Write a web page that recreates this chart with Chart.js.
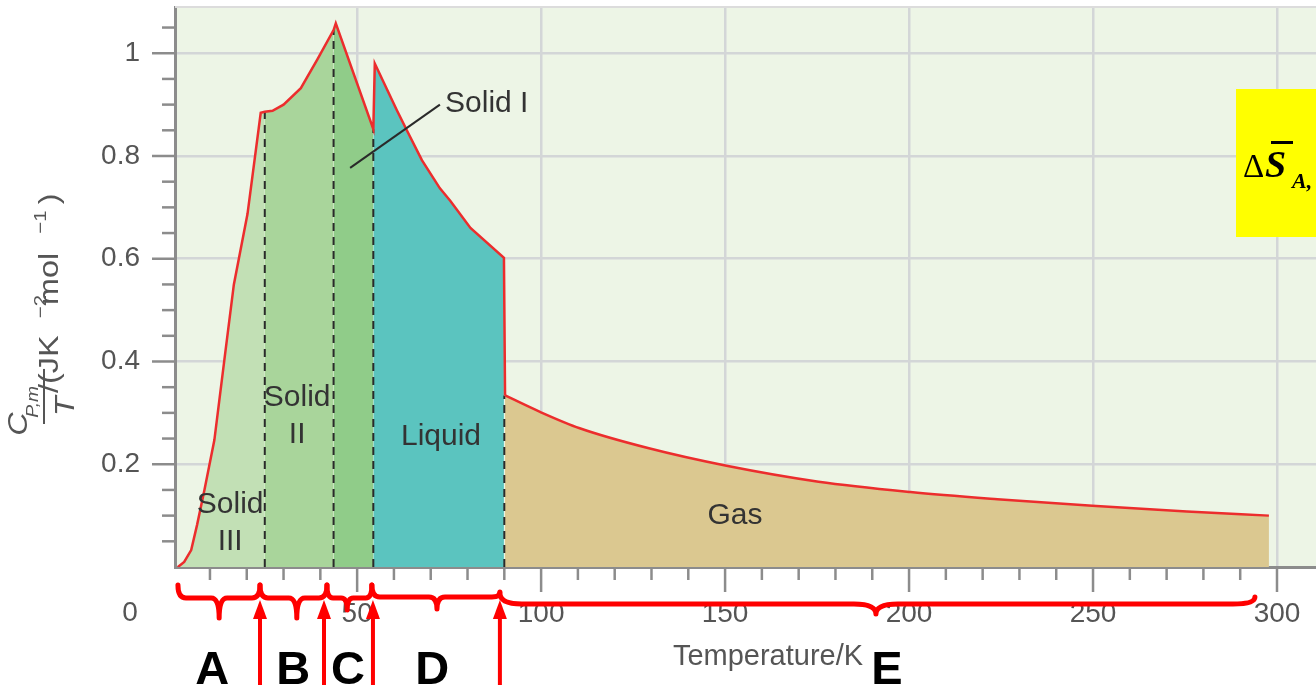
<!DOCTYPE html>
<html>
<head>
<meta charset="utf-8">
<script src="https://cdn.jsdelivr.net/npm/chart.js@4.4.1/dist/chart.umd.min.js"></script>
<style>
  html, body { margin: 0; padding: 0; background: #fff; }
</style>
</head>
<body>
<canvas id="c" width="1316" height="685"></canvas>
<script>
// Cp,m/T against temperature
const tempK = [1.3, 3, 4.9, 6.5, 8.5, 11.2, 13.9, 16.5, 20.2, 23.8, 24.9, 27, 30, 34.7, 39.2, 43.6, 44.2,
  54.4, 54.8, 60.8, 63.5, 67.6, 72.5, 75.3, 80.8, 89.9,
  90.2, 99.7, 110.5, 129.3, 150.4, 175.4, 200.4, 224, 249.8, 275.5, 297.8];
const cpOverT = [0, 0.01, 0.033, 0.082, 0.15, 0.247, 0.402, 0.55, 0.687, 0.884, 0.886, 0.888, 0.9, 0.932, 0.988, 1.045, 1.058,
  0.852, 0.98, 0.889, 0.85, 0.792, 0.737, 0.713, 0.66, 0.602,
  0.334, 0.302, 0.270, 0.231, 0.197, 0.166, 0.146, 0.132, 0.119, 0.108, 0.100];

// phases (filled areas under the curve)
const phaseName = ['Solid III', 'Solid II', 'Solid I', 'Liquid', 'Gas'];
const phaseFrom = [1.3, 24.9, 43.6, 54.4, 90.2];
const phaseTo = [24.9, 43.6, 54.4, 89.9, 297.8];
const phaseColor = ['#c2e0b5', '#a9d59b', '#90cc89', '#5bc4bf', '#dbc890'];

// transitions (dashed lines)
const transitionK = [24.9, 43.6, 54.4, 90.0];
const transitionTop = [0.886, 1.045, 0.852, 0.334];

const xTickLabels = [50, 100, 150, 200, 250, 300];
const yTickLabels = [0.2, 0.4, 0.6, 0.8, 1];

// red annotations under the axis
const rangeLetter = ['A', 'B', 'C', 'D', 'E'];
const rangeFrom = [1.3, 23.6, 41.8, 54.0, 88.8];
const rangeTo = [23.6, 41.8, 54.0, 88.8, 294];
const rangeTip = [12.5, 33.6, 47.3, 71.7, 191];
const letterAt = [10.6, 32.6, 47.5, 70.4, 194];
const arrowAt = [23.6, 41.0, 54.3, 88.8];

const FONT = '"Liberation Sans", Arial, Helvetica, sans-serif';
const SERIF = '"Liberation Serif", "Times New Roman", serif';
Chart.defaults.font.family = FONT;

const GAS_FROM = phaseFrom[4];
function pts(xs, ys) { return xs.map((x, i) => ({ x: x, y: ys[i] })); }
const all = pts(tempK, cpOverT);

const datasets = [];
// red curve: condensed phases straight, gas part smooth
datasets.push({
  label: 'Cp/T', data: all.filter(p => p.x <= GAS_FROM), borderColor: '#ec2d2d', borderWidth: 2.5,
  fill: false, pointRadius: 0, order: 0
});
datasets.push({
  label: 'Cp/T gas', data: all.filter(p => p.x >= GAS_FROM), borderColor: '#ec2d2d', borderWidth: 2.5,
  fill: false, pointRadius: 0, order: 0, cubicInterpolationMode: 'monotone'
});
transitionK.forEach((k, i) => {
  datasets.push({
    label: 'tr' + i, data: [{ x: k, y: 0 }, { x: k, y: transitionTop[i] }],
    borderColor: '#2a2a2a', borderWidth: 2, borderDash: [8, 6], pointRadius: 0, fill: false, order: 1
  });
});
phaseName.forEach((name, i) => {
  const d = all.filter(p => p.x >= phaseFrom[i] && p.x <= phaseTo[i]);
  datasets.push({
    label: name, data: d, borderWidth: 0, borderColor: 'rgba(0,0,0,0)',
    backgroundColor: phaseColor[i], fill: 'origin', pointRadius: 0, order: 2,
    cubicInterpolationMode: name === 'Gas' ? 'monotone' : 'default'
  });
});

function brace(ctx, x1, x2, xm, yEnd1, yEnd2, yLine, yTip, r) {
  ctx.beginPath();
  ctx.moveTo(x1, yEnd1);
  ctx.quadraticCurveTo(x1, yLine, x1 + r, yLine);
  ctx.lineTo(xm - r, yLine);
  ctx.quadraticCurveTo(xm, yLine, xm, yTip);
  ctx.quadraticCurveTo(xm, yLine, xm + r, yLine);
  ctx.lineTo(x2 - r, yLine);
  ctx.quadraticCurveTo(x2, yLine, x2, yEnd2);
  ctx.stroke();
}

function drawYTitle(ctx) {
  const main = '27px ' + FONT, ital = 'italic 27px ' + FONT, sub = 'italic 16px ' + FONT, sup = '17px ' + FONT;
  ctx.save();
  ctx.translate(58, 424);
  ctx.rotate(-Math.PI / 2);
  ctx.scale(1.2, 1);
  ctx.fillStyle = '#555';
  ctx.textBaseline = 'alphabetic';
  let x = 0;
  // fraction
  ctx.font = ital; ctx.fillText('C', x, -31);
  const cw = ctx.measureText('C').width;
  ctx.font = sub; ctx.fillText('P,m', x + cw - 1, -20);
  const fw = cw + ctx.measureText('P,m').width;
  ctx.fillRect(x, -15, fw, 2);
  ctx.font = ital;
  const tw = ctx.measureText('T').width;
  ctx.fillText('T', x + (fw - tw) / 2, 16);
  x += fw + 4;
  ctx.font = main; ctx.fillText('/(JK', x, 0); x += ctx.measureText('/(JK').width;
  ctx.font = sup; ctx.fillText('\u22122', x, -12); x += ctx.measureText('\u22122').width;
  ctx.font = main; ctx.fillText(' mol', x, 0); x += ctx.measureText(' mol').width;
  ctx.font = sup; ctx.fillText('\u22121', x, -12); x += ctx.measureText('\u22121').width;
  ctx.font = main; ctx.fillText(')', x, 0);
  ctx.restore();
}

const decor = {
  id: 'decor',
  beforeDraw(chart) {
    const { ctx, chartArea: a } = chart;
    ctx.save();
    ctx.fillStyle = '#edf5e6';
    ctx.fillRect(a.left, a.top, a.right - a.left, a.bottom - a.top);
    ctx.restore();
  },
  afterDatasetsDraw(chart) {
    const { ctx } = chart;
    const xs = chart.scales.x, ys = chart.scales.y;
    ctx.save();
    ctx.fillStyle = '#333';
    ctx.textAlign = 'center';
    ctx.textBaseline = 'middle';
    ctx.font = '30px ' + FONT;
    const labelText = ['Solid', 'III', 'Solid', 'II', 'Liquid', 'Gas'];
    const labelK = [15.5, 15.5, 33.7, 33.7, 72.8, 152.7];
    const labelV = [0.121, 0.049, 0.329, 0.257, 0.253, 0.099];
    labelText.forEach((t, i) => ctx.fillText(t, xs.getPixelForValue(labelK[i]), ys.getPixelForValue(labelV[i])));
    // Solid I with leader line
    ctx.textAlign = 'left';
    ctx.fillText('Solid I', xs.getPixelForValue(73.9), ys.getPixelForValue(0.901));
    ctx.strokeStyle = '#2a2a2a';
    ctx.lineWidth = 2;
    ctx.beginPath();
    ctx.moveTo(xs.getPixelForValue(48.1), ys.getPixelForValue(0.777));
    ctx.lineTo(xs.getPixelForValue(72.5), ys.getPixelForValue(0.9));
    ctx.stroke();
    ctx.restore();
  },
  afterDraw(chart) {
    const { ctx, chartArea: a } = chart;
    const xs = chart.scales.x, ys = chart.scales.y;
    ctx.save();
    // top frame line
    ctx.strokeStyle = '#dcdcdc';
    ctx.lineWidth = 2;
    ctx.beginPath(); ctx.moveTo(a.left, a.top); ctx.lineTo(a.right, a.top); ctx.stroke();
    // tick marks
    ctx.strokeStyle = '#8c8c8c';
    ctx.lineWidth = 2.5;
    xs.ticks.forEach(t => {
      const p = xs.getPixelForValue(t.value);
      const len = t.value % 50 === 0 ? 25 : 13;
      ctx.beginPath(); ctx.moveTo(p, a.bottom); ctx.lineTo(p, a.bottom + len); ctx.stroke();
    });
    ys.ticks.forEach(t => {
      const r = Math.round(t.value * 100);
      if (r === 0) return;
      const p = ys.getPixelForValue(t.value);
      const len = r % 20 === 0 ? 23 : 13;
      ctx.beginPath(); ctx.moveTo(a.left - len, p); ctx.lineTo(a.left, p); ctx.stroke();
    });
    // x label "0" sits well left of the axis in the figure
    ctx.fillStyle = '#555';
    ctx.font = '28px ' + FONT;
    ctx.textAlign = 'center';
    ctx.textBaseline = 'middle';
    ctx.fillText('0', xs.getPixelForValue(0.5) - 45, 613);
    // axis titles
    ctx.font = '29px ' + FONT;
    ctx.fillText('Temperature/K', 768, 657);
    drawYTitle(ctx);

    // red braces
    ctx.strokeStyle = '#ff0000';
    ctx.lineWidth = 5;
    ctx.lineCap = 'round';
    ctx.lineJoin = 'round';
    rangeLetter.forEach((l, i) => {
      const x1 = xs.getPixelForValue(rangeFrom[i]), x2 = xs.getPixelForValue(rangeTo[i]);
      const xm = xs.getPixelForValue(rangeTip[i]);
      if (l === 'E') brace(ctx, x1, x2, xm, 593, 597, 604, 614, 22);
      else if (l === 'C') brace(ctx, x1, x2, xm, 585, 585, 598, 610, 6);
      else if (l === 'D') brace(ctx, x1, x2, xm, 585, 592, 597, 609, 8);
      else brace(ctx, x1, x2, xm, 585, 585, 598, 618, 8);
    });
    // red arrows
    ctx.fillStyle = '#ff0000';
    ctx.lineCap = 'butt';
    ctx.lineWidth = 4;
    arrowAt.forEach(k => {
      const p = xs.getPixelForValue(k);
      ctx.beginPath(); ctx.moveTo(p, 685); ctx.lineTo(p, 612); ctx.stroke();
      ctx.beginPath(); ctx.moveTo(p, 600); ctx.lineTo(p - 7, 619); ctx.lineTo(p + 7, 619); ctx.closePath(); ctx.fill();
    });
    // letters
    ctx.fillStyle = '#000';
    ctx.font = 'bold 47px ' + FONT;
    ctx.textAlign = 'center';
    ctx.textBaseline = 'alphabetic';
    rangeLetter.forEach((l, i) => ctx.fillText(l, xs.getPixelForValue(letterAt[i]), 684));

    // yellow note box
    ctx.fillStyle = '#ffff00';
    ctx.fillRect(1236, 89, 80, 148);
    ctx.fillStyle = '#000';
    ctx.textAlign = 'left';
    ctx.font = '33px ' + SERIF;
    ctx.fillText('\u0394', 1243, 177);
    ctx.font = 'bold italic 38px ' + SERIF;
    ctx.fillText('S', 1265, 177);
    ctx.fillRect(1271, 141, 22, 3);
    ctx.font = 'bold italic 22px ' + SERIF;
    ctx.fillText('A,', 1292, 188);
    ctx.restore();
  }
};

new Chart(document.getElementById('c'), {
  type: 'line',
  data: { datasets: datasets },
  options: {
    responsive: false,
    animation: false,
    layout: { padding: { top: 7, right: 0, left: 0, bottom: 0 } },
    plugins: { legend: { display: false }, tooltip: { enabled: false } },
    elements: { line: { tension: 0 } },
    scales: {
      x: {
        type: 'linear', min: 0.5, max: 310.6,
        afterBuildTicks: s => {
          const t = [];
          for (let v = 10; v <= 300; v += 10) t.push({ value: v });
          s.ticks = t;
        },
        afterFit: s => { s.height = 118; s.paddingLeft = 0; s.paddingRight = 0; },
        grid: {
          drawTicks: false, lineWidth: 2.5,
          color: c => (c.tick && c.tick.value % 50 === 0) ? '#d3d6d7' : 'rgba(0,0,0,0)'
        },
        border: { color: '#8c8c8c', width: 3 },
        ticks: {
          autoSkip: false, maxRotation: 0, padding: 30, color: '#555', font: { size: 28 },
          callback: v => xTickLabels.includes(v) ? String(v) : ''
        }
      },
      y: {
        type: 'linear', min: 0, max: 1.09,
        afterBuildTicks: s => {
          const t = [];
          for (let i = 0; i <= 21; i++) t.push({ value: i * 5 / 100 });
          s.ticks = t;
        },
        afterFit: s => { s.width = 175; s.paddingTop = 0; s.paddingBottom = 0; },
        grid: {
          drawTicks: false, lineWidth: 2.5,
          color: c => {
            const r = c.tick ? Math.round(c.tick.value * 100) : 0;
            return (r > 0 && r % 20 === 0) ? '#d3d6d7' : 'rgba(0,0,0,0)';
          }
        },
        border: { color: '#8c8c8c', width: 3 },
        ticks: {
          autoSkip: false, padding: 35, color: '#555', font: { size: 28 },
          callback: v => yTickLabels.some(y => Math.abs(y - v) < 1e-6) ? String(Math.round(v * 100) / 100) : ''
        }
      }
    }
  },
  plugins: [decor]
});
</script>
</body>
</html>
